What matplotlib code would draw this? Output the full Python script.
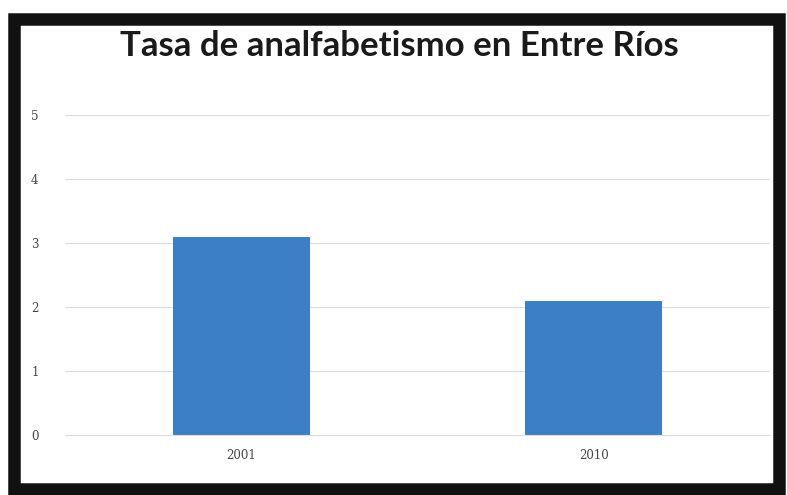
import matplotlib.pyplot as plt
from matplotlib.patches import Rectangle

# values
years = ["2001", "2010"]
rates = [3.1, 2.1]
y_ticks = [0, 1, 2, 3, 4, 5]

W, H = 787, 495
fig = plt.figure(figsize=(W / 100, H / 100), dpi=100)
fig.patch.set_facecolor("white")

ax = fig.add_axes([65 / W, 1 - 435 / H, (770 - 65) / W, (435 - 115) / H])
x = range(len(years))
ax.bar(x, rates, width=0.39, color="#3d7fc6", zorder=2)

ax.set_xlim(-0.5, len(years) - 0.5)
ax.set_ylim(0, 5)
ax.set_yticks(y_ticks)
ax.set_xticks(list(x))
ax.set_xticklabels(years)
ax.grid(axis="y", color="#dcdcdc", linewidth=0.8, zorder=0)
for s in ax.spines.values():
    s.set_visible(False)
ax.spines["bottom"].set_visible(True)
ax.spines["bottom"].set_color("#dcdcdc")
ax.tick_params(length=0, labelsize=8.5, labelcolor="#444444")
ax.tick_params(axis="y", pad=19)
ax.tick_params(axis="x", pad=10)
for lbl in ax.get_yticklabels() + ax.get_xticklabels():
    lbl.set_family("DejaVu Serif")

fig.text(399 / W, 1 - 46 / H, "Tasa de analfabetismo en Entre Ríos",
         ha="center", va="center", fontsize=25, fontweight="bold",
         family="Lato", color="#1a1a1a")

# thick black frame of the scanned picture
fig.patches.append(Rectangle((14 / W, 1 - 489 / H), (779 - 14) / W, (489 - 19) / H,
                             transform=fig.transFigure, fill=False,
                             edgecolor="#111111", linewidth=9))

fig.savefig("out.png", dpi=100)
